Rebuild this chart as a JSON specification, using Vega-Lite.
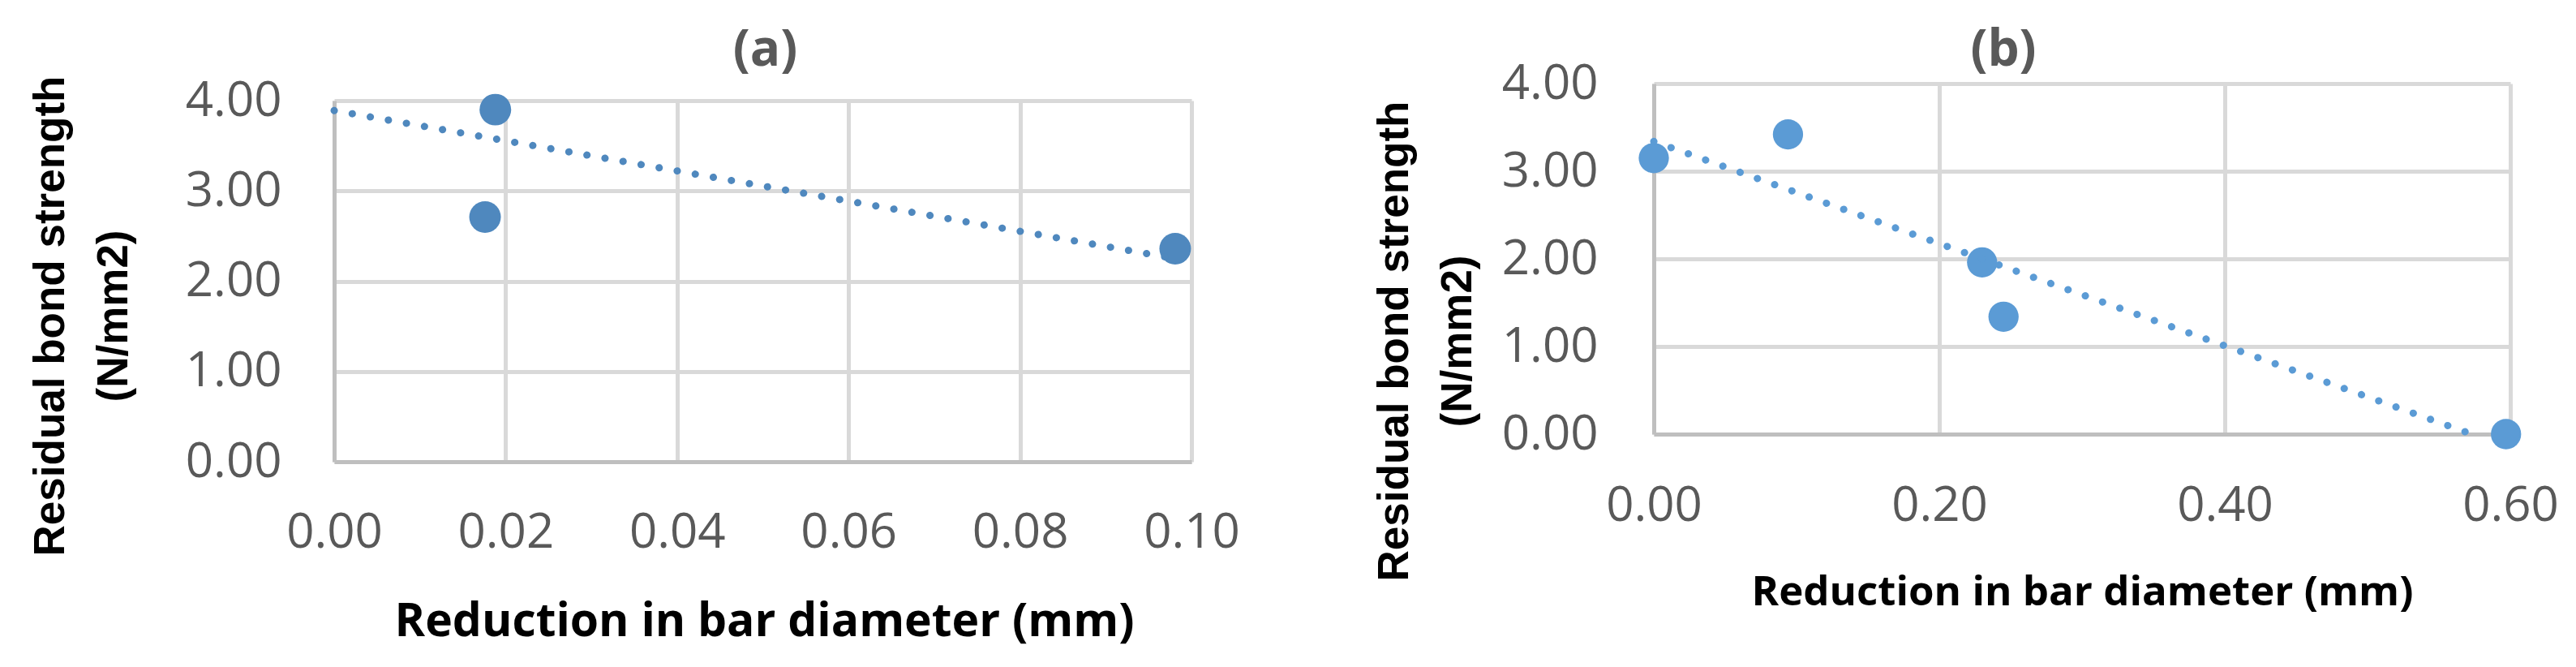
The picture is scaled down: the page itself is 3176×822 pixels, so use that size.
{
  "$schema": "https://vega.github.io/schema/vega-lite/v6.json",
  "background": "white",
  "padding": {"left": 36, "top": 30, "right": 10, "bottom": 10},
  "spacing": 164,
  "config": {
    "view": {"stroke": null},
    "axis": {
      "ticks": false,
      "grid": true,
      "gridColor": "#d9d9d9",
      "gridWidth": 5,
      "domainColor": "#bfbfbf",
      "domainWidth": 5,
      "labelFont": "Open Sans",
      "labelFontSize": 60,
      "labelColor": "#595959",
      "labelFlush": false,
      "labelOverlap": false,
      "labelBound": false,
      "format": ".2f",
      "titleColor": "black"
    }
  },
  "datasets": {
    "spacer": [{}],
    "a_points": [
      {"reduction": 0.0188, "strength": 3.90},
      {"reduction": 0.0176, "strength": 2.71},
      {"reduction": 0.0981, "strength": 2.36}
    ],
    "a_trend": [
      {"reduction": 0.0, "strength": 3.89},
      {"reduction": 0.0981, "strength": 2.25}
    ],
    "b_points": [
      {"reduction": 0.0, "strength": 3.15},
      {"reduction": 0.094, "strength": 3.42},
      {"reduction": 0.230, "strength": 1.96},
      {"reduction": 0.245, "strength": 1.34},
      {"reduction": 0.597, "strength": 0.0}
    ],
    "b_trend": [
      {"reduction": 0.0, "strength": 3.34},
      {"reduction": 0.573, "strength": 0.0}
    ]
  },
  "hconcat": [
    {
      "spacing": 0,
      "vconcat": [
        {
          "width": 1,
          "height": 1,
          "data": {"name": "spacer"},
          "mark": {"type": "point", "opacity": 0, "size": 1}
        },
        {
          "width": 1057,
          "height": 445,
          "title": {"text": "(a)", "font": "Open Sans", "fontWeight": "bold", "fontSize": 62, "color": "#595959", "offset": -1, "dx": 3},
          "encoding": {
            "x": {
              "field": "reduction", "type": "quantitative",
              "scale": {"domain": [0, 0.1], "nice": false, "zero": false},
              "axis": {
                "values": [0, 0.02, 0.04, 0.06, 0.08, 0.1],
                "labelPadding": 58,
                "title": "Reduction in bar diameter (mm)",
                "titleFont": "Open Sans", "titleFontWeight": "bold", "titleFontSize": 57,
                "titleBaseline": "alphabetic", "titleY": 214, "titleX": 530, "titleAlign": "center"
              }
            },
            "y": {
              "field": "strength", "type": "quantitative",
              "scale": {"domain": [0, 4], "nice": false},
              "axis": {
                "values": [0, 1, 2, 3, 4],
                "labelPadding": 65,
                "title": ["Residual bond strength", "(N/mm2)"],
                "titleFont": "Liberation Sans", "titleFontWeight": "bold", "titleFontSize": 53,
                "titleLineHeight": 78,
                "titleAngle": 270, "titleAlign": "center", "titleBaseline": "top",
                "titleX": -376, "titleY": 265
              }
            }
          },
          "layer": [
            {
              "data": {"name": "a_points"},
              "mark": {"type": "circle", "size": 1520, "opacity": 1, "color": "#4F88BE", "clip": false}
            },
            {
              "data": {"name": "a_trend"},
              "mark": {"type": "line", "color": "#4F88BE", "strokeWidth": 9, "strokeDash": [0.1, 22.5], "strokeCap": "round"}
            }
          ]
        }
      ]
    },
    {
      "spacing": 0,
      "vconcat": [
        {
          "width": 1,
          "height": 1,
          "data": {"name": "spacer"},
          "mark": {"type": "point", "opacity": 0, "size": 1}
        },
        {
          "width": 1056,
          "height": 432,
          "title": {"text": "(b)", "font": "Open Sans", "fontWeight": "bold", "fontSize": 62, "color": "#595959", "offset": -21, "dx": -97},
          "encoding": {
            "x": {
              "field": "reduction", "type": "quantitative",
              "scale": {"domain": [0, 0.6], "nice": false, "zero": false},
              "axis": {
                "values": [0, 0.2, 0.4, 0.6],
                "labelPadding": 59,
                "title": "Reduction in bar diameter (mm)",
                "titleFont": "Open Sans", "titleFontWeight": "bold", "titleFontSize": 51,
                "titleBaseline": "alphabetic", "titleY": 210, "titleX": 528, "titleAlign": "center"
              }
            },
            "y": {
              "field": "strength", "type": "quantitative",
              "scale": {"domain": [0, 4], "nice": false},
              "axis": {
                "values": [0, 1, 2, 3, 4],
                "labelPadding": 69,
                "title": ["Residual bond strength", "(N/mm2)"],
                "titleFont": "Liberation Sans", "titleFontWeight": "bold", "titleFontSize": 53,
                "titleLineHeight": 78,
                "titleAngle": 270, "titleAlign": "center", "titleBaseline": "top",
                "titleX": -346, "titleY": 317
              }
            }
          },
          "layer": [
            {
              "data": {"name": "b_points"},
              "mark": {"type": "circle", "size": 1390, "opacity": 1, "color": "#5B9BD5", "clip": false}
            },
            {
              "data": {"name": "b_trend"},
              "mark": {"type": "line", "color": "#5B9BD5", "strokeWidth": 9, "strokeDash": [0.1, 22.5], "strokeCap": "round"}
            }
          ]
        }
      ]
    }
  ]
}
